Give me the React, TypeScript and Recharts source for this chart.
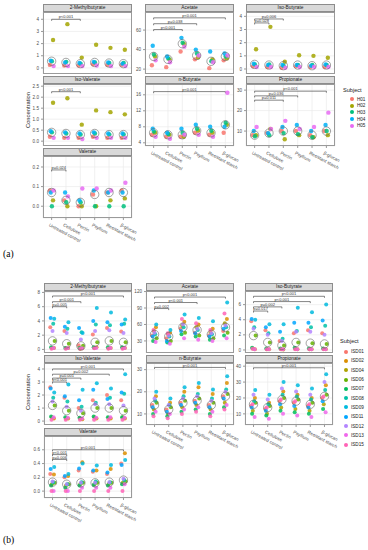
import { ScatterChart, Scatter, XAxis, YAxis, CartesianGrid, ReferenceLine } from 'recharts'

const CATEGORIES = ['Untreated control', 'Cellulose', 'Pectin', 'Psyllium', 'Resistant starch', 'β-glucan']

const SUBJECTS_A = ['H01', 'H02', 'H03', 'H04', 'H05']
const SUBJECTS_B = ['ISD01', 'ISD02', 'ISD04', 'ISD06', 'ISD07', 'ISD08', 'ISD09', 'ISD11', 'ISD12', 'ISD13', 'ISD15']

const COLORS_A = ['#F8766D', '#A3A500', '#00BF7D', '#00B0F6', '#E76BF3']
const COLORS_B = ['#F8766D', '#DB8E00', '#AEA200', '#64B200', '#00BD5C', '#00C1A7', '#00BADE', '#00A6FF', '#B385FF', '#EF67EB', '#FF63B6']

// fixed horizontal offset per subject (like geom_jitter)
const JITTER_A = [-0.12, 0.1, 0.02, -0.06, 0.14]
const JITTER_B = [-0.16, 0.1, -0.05, 0.15, -0.1, 0.05, 0.12, -0.13, 0.0, 0.08, -0.07]

// ---- panel (a): rows = subjects, columns = categories
const A_METHYLBUTYRATE = [
    [0.25, 0.2, 0.2, 0.3, 0.25, 0.25],
    [2.3, 3.6, 0.85, 1.9, 1.65, 1.5],
    [0.55, 0.5, 0.35, 0.45, 0.4, 0.4],
    [0.6, 0.45, 0.4, 0.5, 0.45, 0.35],
    [0.15, 0.15, 0.15, 0.2, 0.15, 0.15],
]
const A_ACETATE = [
    [24, 22, 38, 30, 21, 29],
    [33, 30, 46, 32, 30, 31],
    [35, 31, 47, 36, 28, 33],
    [44, 33, 52, 40, 38, 36],
    [29, 27, 43, 34, 27, 34],
]
const A_ISOBUTYRATE = [
    [0.2, 0.15, 0.1, 0.2, 0.15, 0.15],
    [1.5, 3.2, 0.55, 1.05, 1.0, 0.85],
    [0.35, 0.35, 0.25, 0.3, 0.3, 0.3],
    [0.4, 0.3, 0.3, 0.3, 0.25, 0.35],
    [0.15, 0.15, 0.1, 0.15, 0.15, 0.15],
]
const A_ISOVALERATE = [
    [0.2, 0.15, 0.15, 0.2, 0.15, 0.15],
    [1.75, 1.95, 0.75, 1.4, 1.32, 1.22],
    [0.4, 0.35, 0.3, 0.35, 0.3, 0.3],
    [0.45, 0.4, 0.35, 0.4, 0.35, 0.35],
    [0.15, 0.15, 0.1, 0.15, 0.15, 0.15],
]
const A_NBUTYRATE = [
    [6.0, 5.5, 5.5, 6.5, 6.0, 6.5],
    [6.5, 6.0, 5.5, 7.0, 6.5, 8.5],
    [6.8, 6.2, 6.5, 7.5, 7.0, 9.0],
    [7.5, 6.5, 7.5, 8.5, 8.0, 8.0],
    [5.5, 5.0, 6.0, 6.0, 5.5, 16.5],
]
const A_PROPIONATE = [
    [8, 9, 10, 10, 8, 10],
    [8, 11, 6, 8, 7, 8],
    [7.5, 8, 9, 8.5, 7, 10],
    [10, 9, 12, 13, 10, 13],
    [12, 11, 15, 11, 12, 19],
]
const A_VALERATE = [
    [0.08, 0.03, 0.0, 0.06, 0.07, 0.08],
    [0.03, 0.0, 0.0, 0.0, 0.03, 0.04],
    [0.0, 0.02, 0.02, 0.0, 0.0, 0.0],
    [0.07, 0.07, 0.03, 0.08, 0.07, 0.07],
    [0.08, 0.05, 0.09, 0.09, 0.08, 0.12],
]

// ---- panel (b)
const B_METHYLBUTYRATE = [
    [3.1, 2.6, 0.6, 2.1, 3.0, 2.5],
    [0.2, 0.2, 0.15, 0.3, 0.2, 0.2],
    [0.2, 0.15, 0.1, 0.2, 0.15, 0.2],
    [1.2, 0.8, 0.5, 1.0, 1.2, 1.0],
    [0.3, 0.2, 0.2, 0.3, 0.3, 0.3],
    [3.6, 2.9, 2.4, 3.5, 3.4, 3.6],
    [4.3, 3.8, 2.3, 5.8, 5.2, 4.2],
    [4.4, 3.2, 3.0, 4.0, 3.8, 3.5],
    [2.6, 2.3, 1.4, 2.6, 2.7, 2.3],
    [0.2, 0.2, 0.15, 0.2, 0.2, 0.2],
    [0.1, 0.1, 0.1, 0.15, 0.1, 0.1],
]
const B_ACETATE = [
    [40, 35, 52, 45, 40, 48],
    [55, 45, 65, 60, 52, 70],
    [48, 42, 58, 55, 46, 62],
    [35, 30, 45, 40, 35, 45],
    [30, 27, 42, 38, 32, 40],
    [42, 38, 55, 50, 42, 55],
    [60, 50, 78, 72, 66, 100],
    [38, 30, 48, 44, 38, 52],
    [45, 40, 60, 52, 44, 58],
    [28, 25, 35, 32, 30, 35],
    [50, 44, 70, 62, 50, 80],
]
const B_ISOBUTYRATE = [
    [3.8, 2.6, 1.2, 2.2, 2.6, 2.2],
    [0.1, 0.1, 0.05, 0.1, 0.1, 0.1],
    [0.2, 0.1, 0.1, 0.15, 0.1, 0.15],
    [1.9, 1.0, 0.6, 1.0, 0.9, 0.8],
    [0.3, 0.2, 0.2, 0.3, 0.2, 0.2],
    [3.0, 2.2, 1.5, 2.5, 3.0, 3.2],
    [4.0, 3.4, 3.4, 5.6, 5.0, 6.0],
    [4.1, 3.0, 2.4, 3.6, 3.6, 3.9],
    [2.8, 2.0, 1.2, 2.4, 2.4, 2.0],
    [0.1, 0.1, 0.1, 0.1, 0.1, 0.1],
    [0.15, 0.1, 0.1, 0.1, 0.1, 0.1],
]
const B_ISOVALERATE = [
    [2.6, 1.8, 1.0, 1.6, 2.0, 1.6],
    [0.2, 0.2, 0.15, 0.2, 0.2, 0.2],
    [0.3, 0.2, 0.2, 0.3, 0.25, 0.3],
    [1.2, 0.8, 0.6, 1.0, 1.0, 0.8],
    [0.35, 0.3, 0.25, 0.35, 0.3, 0.3],
    [1.8, 1.5, 1.1, 1.4, 1.8, 2.1],
    [2.2, 2.8, 2.4, 2.9, 2.5, 3.6],
    [2.5, 1.9, 1.6, 2.4, 1.7, 2.2],
    [1.5, 1.1, 0.8, 1.3, 1.3, 1.2],
    [0.3, 0.25, 0.2, 0.25, 0.3, 0.25],
    [0.1, 0.1, 0.1, 0.1, 0.1, 0.1],
]
const B_NBUTYRATE = [
    [14, 12, 15, 16, 14, 18],
    [18, 15, 20, 22, 19, 24],
    [12, 10, 13, 14, 12, 15],
    [15, 13, 16, 17, 15, 19],
    [10, 9, 11, 12, 10, 13],
    [16, 14, 18, 19, 17, 21],
    [20, 17, 22, 24, 21, 27],
    [13, 11, 14, 15, 13, 17],
    [17, 14, 17, 18, 16, 20],
    [11, 10, 12, 13, 11, 14],
    [9, 8, 10, 11, 9, 12],
]
const B_PROPIONATE = [
    [15, 13, 18, 17, 15, 20],
    [20, 17, 24, 22, 20, 28],
    [12, 10, 14, 13, 12, 16],
    [17, 15, 20, 19, 17, 22],
    [10, 9, 12, 11, 10, 13],
    [18, 16, 22, 21, 19, 25],
    [25, 22, 30, 28, 26, 35],
    [14, 12, 16, 15, 14, 18],
    [22, 19, 26, 24, 22, 30],
    [8, 7, 10, 9, 8, 11],
    [16, 14, 19, 18, 16, 21],
]
const B_VALERATE = [
    [0.25, 0.2, 0.3, 0.28, 0.25, 0.4],
    [0.24, 0.22, 0.42, 0.3, 0.32, 0.55],
    [0.1, 0.08, 0.1, 0.1, 0.1, 0.12],
    [0.12, 0.1, 0.12, 0.12, 0.12, 0.14],
    [0.08, 0.05, 0.08, 0.09, 0.08, 0.1],
    [0.13, 0.1, 0.13, 0.14, 0.13, 0.16],
    [0.35, 0.25, 0.4, 0.37, 0.38, 0.45],
    [0.32, 0.22, 0.33, 0.3, 0.27, 0.38],
    [0.14, 0.1, 0.12, 0.12, 0.13, 0.18],
    [0.0, 0.0, 0.05, 0.05, 0.05, 0.1],
    [0.0, 0.0, 0.0, 0.0, 0.0, 0.0],
]

// significance brackets: [from category, to category, height, label]
type Bracket = [number, number, number, string]
const A_BR_MB: Bracket[] = [[0, 2, 4.0, 'p<0.001']]
const A_BR_AC: Bracket[] = [[0, 5, 72.5, 'p<0.001'], [0, 3, 66.5, 'p=0.038'], [0, 2, 60.5, 'p<0.001']]
const A_BR_IB: Bracket[] = [[0, 2, 3.8, 'p=0.006'], [0, 1, 3.5, 'p=0.028']]
const A_BR_IV: Bracket[] = [[0, 2, 2.25, 'p<0.001']]
const A_BR_NB: Bracket[] = [[0, 5, 16.8, 'p<0.001']]
const A_BR_PR: Bracket[] = [[0, 5, 29.5, 'p<0.001'], [0, 3, 27.2, 'p=0.036'], [0, 2, 25.1, 'p=0.011']]
const A_BR_VA: Bracket[] = [[0, 1, 0.185, 'p=0.024']]
const B_BR_MB: Bracket[] = [[0, 5, 7.5, 'p<0.001'], [0, 2, 6.7, 'p<0.001'], [0, 1, 6.0, 'p=0.005']]
const B_BR_AC: Bracket[] = [[0, 5, 110, 'p<0.001'], [0, 3, 100, 'p<0.001'], [0, 1, 89, 'p=0.002']]
const B_BR_IB: Bracket[] = [[0, 5, 7.1, 'p<0.001'], [0, 4, 6.4, 'p<0.001'], [0, 2, 5.7, 'p=0.002'], [0, 1, 5.15, 'p=0.017']]
const B_BR_IV: Bracket[] = [[0, 5, 4.0, 'p<0.001'], [0, 4, 3.6, 'p=0.002'], [0, 2, 3.3, 'p=0.001'], [0, 1, 3.0, 'p<0.001']]
const B_BR_NB: Bracket[] = [[0, 5, 31, 'p<0.001']]
const B_BR_PR: Bracket[] = [[0, 5, 39, 'p<0.001']]
const B_BR_VA: Bracket[] = [[0, 5, 0.6, 'p<0.001'], [0, 1, 0.53, 'p<0.001'], [0, 1, 0.46, 'p=0.006']]

const median = (arr: number[]) => {
    const s = [...arr].sort((a, b) => a - b)
    const m = Math.floor(s.length / 2)
    return s.length % 2 ? s[m] : (s[m - 1] + s[m]) / 2
}

const FONT = '"Liberation Sans", Arial, sans-serif'
const YW = 14
const XPAD = 26 // room on the right for the slanted category labels
const TOPPAD = 4 // room above the panel so the top tick label is not clipped

const XTick = (props: any) => {
    const { x, y, payload } = props
    return (
        <text
            x={x - 1}
            y={y + 5}
            transform={`rotate(28 ${x} ${y})`}
            fontSize={4.6}
            fill="#4d4d4d"
            textAnchor="start"
            fontFamily={FONT}
        >
            {CATEGORIES[payload.value]}
        </text>
    )
}

interface FacetProps {
    title: string
    values: number[][]
    colors: string[]
    jitter: number[]
    domain: [number, number]
    ticks: number[]
    digits: number
    brackets: Bracket[]
    left: number
    top: number
    width: number
    stripH: number
    plotH: number
    showX: boolean
    r: number
}

function Facet(p: FacetProps) {
    const series = p.values.map((row, s) => row.map((v, c) => ({ x: c + p.jitter[s], y: v })))
    const centers = CATEGORIES.map((_, c) => ({ x: c, y: median(p.values.map((row) => row[c])) }))
    const tickLen = (p.domain[1] - p.domain[0]) * 0.025
    const xh = p.showX ? 34 : 0
    return (
        <>
            <div style={{ position: 'absolute', left: p.left - YW, top: p.top + p.stripH - TOPPAD }}>
                <ScatterChart
                    width={p.width + YW + (p.showX ? XPAD : 0)}
                    height={p.plotH + xh + TOPPAD}
                    margin={{ top: TOPPAD, right: p.showX ? XPAD : 0, bottom: 0, left: 0 }}
                >
                    <CartesianGrid stroke="#ebebeb" strokeWidth={0.7} />
                    <XAxis
                        type="number"
                        dataKey="x"
                        domain={[-0.6, 5.6]}
                        ticks={[0, 1, 2, 3, 4, 5]}
                        interval={0}
                        height={xh}
                        tick={p.showX ? <XTick /> : false}
                        tickLine={p.showX ? { stroke: '#555', strokeWidth: 0.6 } : false}
                        tickSize={2}
                        axisLine={false}
                        allowDataOverflow
                    />
                    <YAxis
                        type="number"
                        dataKey="y"
                        domain={p.domain}
                        ticks={p.ticks}
                        interval={0}
                        width={YW}
                        tick={{ fontSize: 4.6, fill: '#4d4d4d', fontFamily: FONT }}
                        tickFormatter={(v: number) => v.toFixed(p.digits)}
                        tickLine={{ stroke: '#555', strokeWidth: 0.6 }}
                        tickSize={2}
                        axisLine={false}
                        allowDataOverflow
                    />
                    {series.map((d, s) => (
                        <Scatter
                            key={s}
                            data={d}
                            fill={p.colors[s]}
                            isAnimationActive={false}
                            shape={(sp: any) => (
                                <circle cx={sp.cx} cy={sp.cy} r={p.r} fill={p.colors[s]} fillOpacity={0.85} />
                            )}
                        />
                    ))}
                    <Scatter
                        data={centers}
                        isAnimationActive={false}
                        shape={(sp: any) => (
                            <circle cx={sp.cx} cy={sp.cy} r={4.2} fill="none" stroke="#666" strokeWidth={0.6} />
                        )}
                    />
                    {p.brackets.map(([a, b, y, label], i) => (
                        <ReferenceLine
                            key={`h${i}`}
                            segment={[{ x: a, y }, { x: b, y }]}
                            stroke="#333"
                            strokeWidth={0.6}
                            label={{ value: label, position: 'top', fontSize: 4, fill: '#333', offset: 0.8, fontFamily: FONT }}
                        />
                    ))}
                    {p.brackets.map(([a, , y], i) => (
                        <ReferenceLine key={`l${i}`} segment={[{ x: a, y }, { x: a, y: y - tickLen }]} stroke="#333" strokeWidth={0.6} />
                    ))}
                    {p.brackets.map(([, b, y], i) => (
                        <ReferenceLine key={`r${i}`} segment={[{ x: b, y }, { x: b, y: y - tickLen }]} stroke="#333" strokeWidth={0.6} />
                    ))}
                </ScatterChart>
                <div
                    style={{
                        position: 'absolute',
                        left: YW,
                        top: TOPPAD,
                        width: p.width,
                        height: p.plotH,
                        boxSizing: 'border-box',
                        border: '1px solid #9a9a9a',
                        pointerEvents: 'none',
                    }}
                />
            </div>
            <div
                style={{
                    position: 'absolute',
                    left: p.left,
                    top: p.top,
                    width: p.width,
                    height: p.stripH,
                    boxSizing: 'border-box',
                    background: '#d9d9d9',
                    border: '1px solid #8c8c8c',
                    fontSize: 4.8,
                    lineHeight: `${p.stripH - 2}px`,
                    textAlign: 'center',
                    color: '#1a1a1a',
                }}
            >
                {p.title}
            </div>
        </>
    )
}

interface FacetDef {
    title: string
    values: number[][]
    domain: [number, number]
    ticks: number[]
    digits: number
    brackets: Bracket[]
    col: number
    row: number
    showX: boolean
}

const FACETS_A: FacetDef[] = [
    { title: '2-Methylbutyrate', values: A_METHYLBUTYRATE, domain: [-0.5, 4.6], ticks: [0, 1, 2, 3, 4], digits: 0, brackets: A_BR_MB, col: 0, row: 0, showX: false },
    { title: 'Acetate', values: A_ACETATE, domain: [15, 78.5], ticks: [20, 40, 60], digits: 0, brackets: A_BR_AC, col: 1, row: 0, showX: false },
    { title: 'Iso-Butyrate', values: A_ISOBUTYRATE, domain: [-0.38, 4.33], ticks: [0, 1, 2, 3, 4], digits: 0, brackets: A_BR_IB, col: 2, row: 0, showX: false },
    { title: 'Iso-Valerate', values: A_ISOVALERATE, domain: [-0.22, 2.6], ticks: [0, 0.5, 1, 1.5, 2, 2.5], digits: 1, brackets: A_BR_IV, col: 0, row: 1, showX: false },
    { title: 'n-Butyrate', values: A_NBUTYRATE, domain: [3.2, 18.7], ticks: [4, 8, 12, 16], digits: 0, brackets: A_BR_NB, col: 1, row: 1, showX: true },
    { title: 'Propionate', values: A_PROPIONATE, domain: [2.7, 33], ticks: [10, 20, 30], digits: 0, brackets: A_BR_PR, col: 2, row: 1, showX: true },
    { title: 'Valerate', values: A_VALERATE, domain: [-0.06, 0.256], ticks: [0, 0.1, 0.2], digits: 1, brackets: A_BR_VA, col: 0, row: 2, showX: true },
]

const FACETS_B: FacetDef[] = [
    { title: '2-Methylbutyrate', values: B_METHYLBUTYRATE, domain: [-0.5, 8.2], ticks: [0, 2, 4, 6, 8], digits: 0, brackets: B_BR_MB, col: 0, row: 0, showX: false },
    { title: 'Acetate', values: B_ACETATE, domain: [8, 121], ticks: [30, 60, 90, 120], digits: 0, brackets: B_BR_AC, col: 1, row: 0, showX: false },
    { title: 'Iso-Butyrate', values: B_ISOBUTYRATE, domain: [-0.4, 7.8], ticks: [0, 2, 4, 6], digits: 0, brackets: B_BR_IB, col: 2, row: 0, showX: false },
    { title: 'Iso-Valerate', values: B_ISOVALERATE, domain: [-0.3, 4.46], ticks: [0, 1, 2, 3, 4], digits: 0, brackets: B_BR_IV, col: 0, row: 1, showX: false },
    { title: 'n-Butyrate', values: B_NBUTYRATE, domain: [5, 33], ticks: [10, 20, 30], digits: 0, brackets: B_BR_NB, col: 1, row: 1, showX: true },
    { title: 'Propionate', values: B_PROPIONATE, domain: [3, 42], ticks: [10, 20, 30, 40], digits: 0, brackets: B_BR_PR, col: 2, row: 1, showX: true },
    { title: 'Valerate', values: B_VALERATE, domain: [-0.1, 0.8], ticks: [0, 0.2, 0.4, 0.6], digits: 1, brackets: B_BR_VA, col: 0, row: 2, showX: true },
]

interface PanelLayout {
    cols: number[]
    rows: number[]
    width: number
    stripH: number
    plotH: number
}

const LAYOUT_A: PanelLayout = { cols: [43, 145, 246], rows: [4, 76, 148], width: 89, stripH: 8, plotH: 62 }
const LAYOUT_B: PanelLayout = { cols: [44, 146, 245], rows: [283, 355, 428], width: 88, stripH: 8, plotH: 62 }

function Panel({ facets, layout, colors, jitter, r }: { facets: FacetDef[]; layout: PanelLayout; colors: string[]; jitter: number[]; r: number }) {
    return (
        <>
            {facets.map((f) => (
                <Facet
                    key={f.title}
                    title={f.title}
                    values={f.values}
                    colors={colors}
                    jitter={jitter}
                    domain={f.domain}
                    ticks={f.ticks}
                    digits={f.digits}
                    brackets={f.brackets}
                    left={layout.cols[f.col]}
                    top={layout.rows[f.row]}
                    width={layout.width}
                    stripH={layout.stripH}
                    plotH={layout.plotH}
                    showX={f.showX}
                    r={r}
                />
            ))}
        </>
    )
}

function Legend({ names, colors, left, top, gap, indent }: { names: string[]; colors: string[]; left: number; top: number; gap: number; indent: number }) {
    return (
        <div style={{ position: 'absolute', left, top, fontSize: 5.6, color: '#1a1a1a' }}>
            <div style={{ marginBottom: 3 }}>Subject</div>
            {names.map((n, i) => (
                <div key={n} style={{ display: 'flex', alignItems: 'center', height: gap, marginLeft: indent }}>
                    <span
                        style={{ width: 4, height: 4, borderRadius: 2, background: colors[i], display: 'inline-block', marginRight: 3 }}
                    />
                    <span style={{ fontSize: 4.6, whiteSpace: 'nowrap' }}>{n}</span>
                </div>
            ))}
        </div>
    )
}

export default function App() {
    return (
        <div style={{ position: 'absolute', left: 0, top: 0, width: 368, height: 550, background: '#fff', fontFamily: FONT, overflow: 'hidden' }}>
            <Panel facets={FACETS_A} layout={LAYOUT_A} colors={COLORS_A} jitter={JITTER_A} r={2.2} />
            <Panel facets={FACETS_B} layout={LAYOUT_B} colors={COLORS_B} jitter={JITTER_B} r={2} />

            <div style={{ position: 'absolute', left: 28, top: 110, transform: 'translate(-50%, -50%) rotate(-90deg)', fontSize: 5.8, color: '#1a1a1a', whiteSpace: 'nowrap' }}>
                Concentration
            </div>
            <div style={{ position: 'absolute', left: 28, top: 392, transform: 'translate(-50%, -50%) rotate(-90deg)', fontSize: 5.8, color: '#1a1a1a', whiteSpace: 'nowrap' }}>
                Concentration
            </div>

            <Legend names={SUBJECTS_A} colors={COLORS_A} left={343} top={87} gap={6.6} indent={7} />
            <Legend names={SUBJECTS_B} colors={COLORS_B} left={340} top={338} gap={9.3} indent={4} />

            <div style={{ position: 'absolute', left: 3, top: 249, fontFamily: '"Liberation Serif", serif', fontSize: 9.5, color: '#000' }}>(a)</div>
            <div style={{ position: 'absolute', left: 3, top: 535, fontFamily: '"Liberation Serif", serif', fontSize: 9.5, color: '#000' }}>(b)</div>
        </div>
    )
}
